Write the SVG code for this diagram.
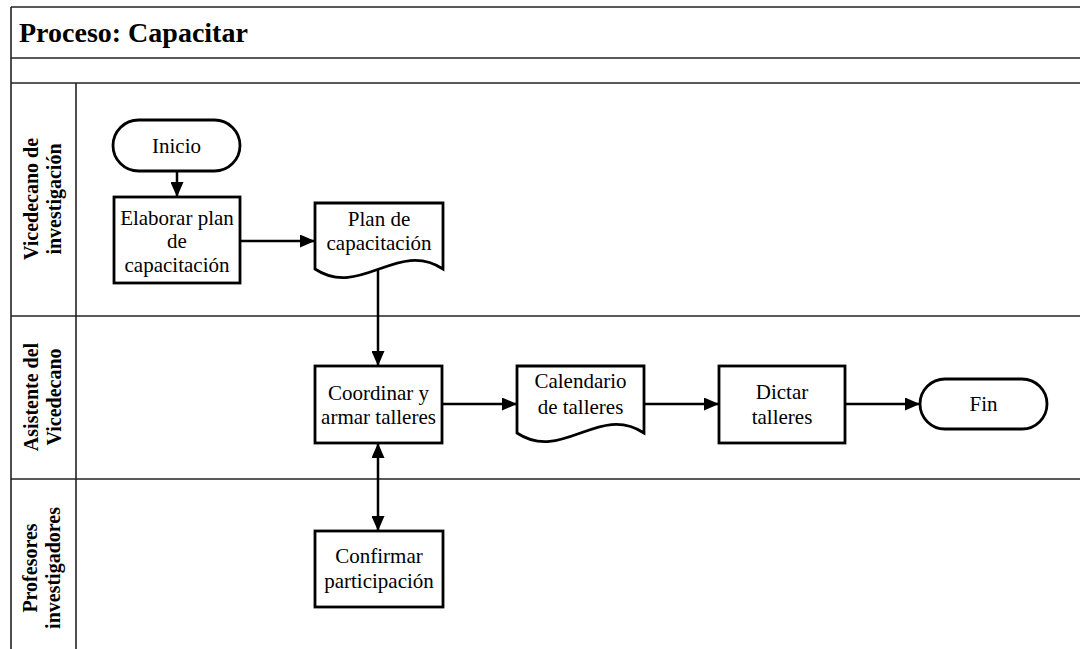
<svg xmlns="http://www.w3.org/2000/svg" width="1080" height="649" viewBox="0 0 1080 649">
  <style>
    .frame { stroke: #222; stroke-width: 1.6; fill: none; }
    .shape { fill: #fff; stroke: #000; stroke-width: 2.8; }
    .conn { stroke: #000; stroke-width: 2.5; fill: none; }
    .lbl { font-family: 'Liberation Serif', 'DejaVu Serif', 'Times New Roman', serif; font-size: 21px; fill: #000; text-anchor: middle; }
    .lane { font-family: 'Liberation Serif', 'DejaVu Serif', 'Times New Roman', serif; font-size: 20px; font-weight: bold; fill: #000; text-anchor: middle; }
    .title { font-family: 'Liberation Serif', 'DejaVu Serif', 'Times New Roman', serif; font-size: 28px; font-weight: bold; fill: #000; }
  </style>
  <defs>
    <marker id="arrow" viewBox="0 0 15 13" refX="15" refY="6.5" markerWidth="15" markerHeight="13" markerUnits="userSpaceOnUse" orient="auto-start-reverse">
      <path d="M0,0 L15,6.5 L0,13 Z" fill="#000"/>
    </marker>
  </defs>

  <rect width="1080" height="649" fill="#fff"/>

  <!-- pool frame, title bar and lanes -->
  <g id="pool">
    <line class="frame" x1="11" y1="7" x2="1080" y2="7" stroke-width="2"/>
    <line class="frame" x1="11" y1="7" x2="11" y2="649" stroke-width="2"/>
    <line class="frame" x1="11" y1="58" x2="1080" y2="58"/>
    <line class="frame" x1="11" y1="83" x2="1080" y2="83"/>
    <line class="frame" x1="76" y1="83" x2="76" y2="649"/>
    <line class="frame" x1="11" y1="316" x2="1080" y2="316"/>
    <line class="frame" x1="11" y1="479" x2="1080" y2="479"/>
    <text class="title" x="19" y="42">Proceso: Capacitar</text>
  </g>

  <g id="lane-vicedecano">
    <text class="lane" transform="translate(38,199) rotate(-90)">Vicedecano de</text>
    <text class="lane" transform="translate(61,199) rotate(-90)">investigación</text>
  </g>
  <g id="lane-asistente">
    <text class="lane" transform="translate(38,397) rotate(-90)">Asistente del</text>
    <text class="lane" transform="translate(61,397) rotate(-90)">Vicedecano</text>
  </g>
  <g id="lane-profesores">
    <text class="lane" transform="translate(37,568) rotate(-90)">Profesores</text>
    <text class="lane" transform="translate(60,568) rotate(-90)">investigadores</text>
  </g>

  <!-- connectors -->
  <g id="connectors">
    <line class="conn" x1="177" y1="171" x2="177" y2="197" marker-end="url(#arrow)"/>
    <line class="conn" x1="240" y1="241" x2="315" y2="241" marker-end="url(#arrow)"/>
    <line class="conn" x1="378" y1="269" x2="378" y2="366" marker-end="url(#arrow)"/>
    <line class="conn" x1="378" y1="443" x2="378" y2="531" marker-start="url(#arrow)" marker-end="url(#arrow)"/>
    <line class="conn" x1="442" y1="404" x2="517" y2="404" marker-end="url(#arrow)"/>
    <line class="conn" x1="644" y1="404" x2="719" y2="404" marker-end="url(#arrow)"/>
    <line class="conn" x1="845" y1="404" x2="920" y2="404" marker-end="url(#arrow)"/>
  </g>

  <g id="inicio">
    <rect class="shape" x="113" y="120" width="127" height="51" rx="25.5"/>
    <text class="lbl" x="176.5" y="152.5">Inicio</text>
  </g>

  <g id="elaborar-plan">
    <rect class="shape" x="114" y="197" width="126" height="86"/>
    <text class="lbl" x="177" y="225">Elaborar plan</text>
    <text class="lbl" x="177" y="248">de</text>
    <text class="lbl" x="177" y="272">capacitación</text>
  </g>

  <g id="plan-capacitacion">
    <path class="shape" d="M315,203 H443 V269 C398,239 360,299 315,269 Z"/>
    <text class="lbl" x="379" y="226">Plan de</text>
    <text class="lbl" x="379" y="250">capacitación</text>
  </g>

  <g id="coordinar">
    <rect class="shape" x="315" y="366" width="127" height="77"/>
    <text class="lbl" x="378.5" y="400">Coordinar y</text>
    <text class="lbl" x="378.5" y="424">armar talleres</text>
  </g>

  <g id="calendario">
    <path class="shape" d="M517,366 H644 V433 C599,403 562,463 517,433 Z"/>
    <text class="lbl" x="580.5" y="388">Calendario</text>
    <text class="lbl" x="580.5" y="414">de talleres</text>
  </g>

  <g id="dictar">
    <rect class="shape" x="719" y="366" width="126" height="77"/>
    <text class="lbl" x="782" y="399">Dictar</text>
    <text class="lbl" x="782" y="424">talleres</text>
  </g>

  <g id="fin">
    <rect class="shape" x="920" y="379" width="127" height="50" rx="25"/>
    <text class="lbl" x="983.5" y="411">Fin</text>
  </g>

  <g id="confirmar">
    <rect class="shape" x="315" y="531" width="128" height="76"/>
    <text class="lbl" x="379" y="563">Confirmar</text>
    <text class="lbl" x="379" y="588">participación</text>
  </g>
</svg>
